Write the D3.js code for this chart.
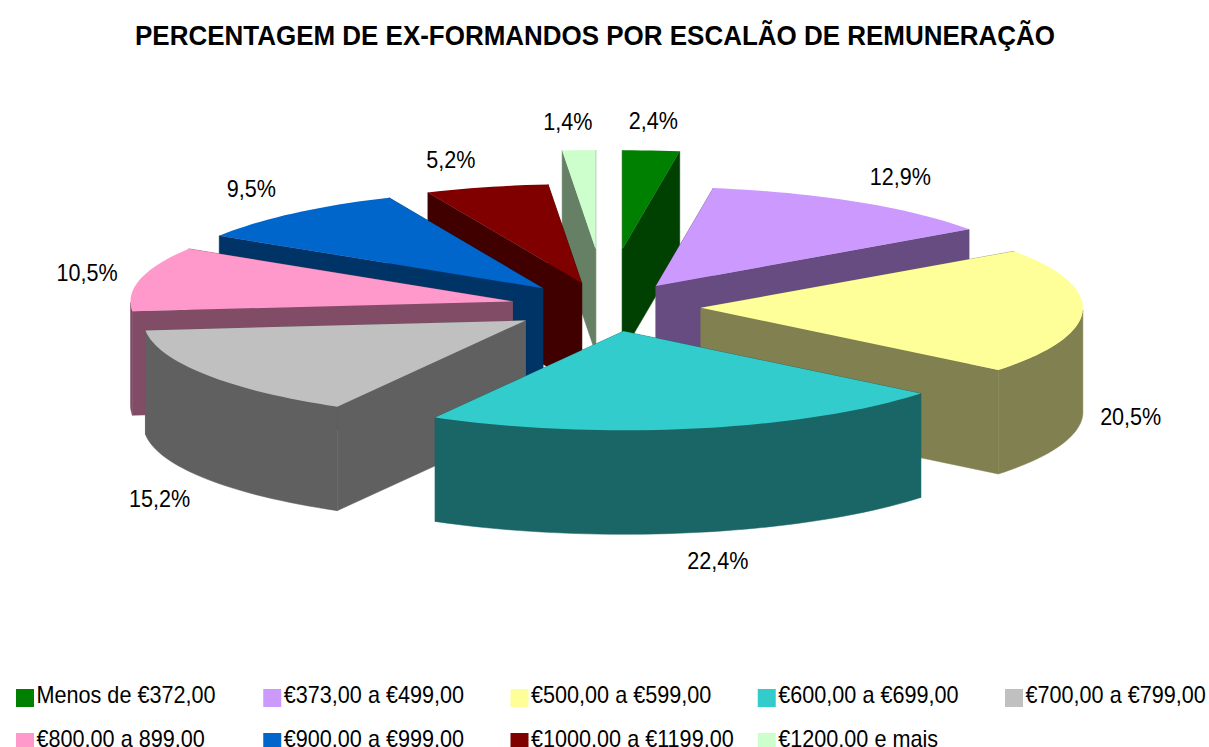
<!DOCTYPE html>
<html><head><meta charset="utf-8">
<style>html,body{margin:0;padding:0;background:#fff;overflow:hidden}svg{display:block}</style>
<script src="https://cdn.jsdelivr.net/npm/d3@7"></script>
</head><body>
<svg id="c" width="1209" height="747"></svg>
<script>
const title = "PERCENTAGEM DE EX-FORMANDOS POR ESCALÃO DE REMUNERAÇÃO";
const categories = ["Menos de €372,00","€373,00 a €499,00","€500,00 a €599,00","€600,00 a €699,00","€700,00 a €799,00","€800,00 a 899,00","€900,00 a €999,00","€1000,00 a €1199,00","€1200,00 e mais"];
const values = [2.4,12.9,20.5,22.4,15.2,10.5,9.5,5.2,1.4];
const explode = [0.585,0.25,0.25,0.25,0.25,0.25,0.25,0.25,0.585];
const colors = ["#008000","#CC99FF","#FFFF99","#33CCCC","#C0C0C0","#FF99CC","#0066CC","#800000","#CCFFCC"];
const wallColors = ["#004000","#664C80","#808050","#1A6666","#606060","#804C66","#003366","#400000","#668066"];
const drawOrder = [8,0,7,1,6,5,2,4,3];
const labelNudge = [[-11,-1],[8,0],[0,1],[2,0],[-2,5],[-6,1],[-3,-2],[-12,1],[-1,1]];

const cx=605.5, cy=307, rx=382, ry=99, depth=104;
const FONT="'Liberation Sans',Arial,sans-serif";
const svg=d3.select("#c");

const pie=d3.pie().sort(null).value(d=>d);
const arcs=pie(values);
const px=(a,r)=>Math.sin(a)*rx*r, py=(a,r)=>-Math.cos(a)*ry*r;
const line=d3.line();

const slices=arcs.map((a,i)=>{
  const mid=(a.startAngle+a.endAngle)/2, ax=cx+px(mid,explode[i]), ay=cy+py(mid,explode[i]);
  const n=Math.max(4,Math.ceil((a.endAngle-a.startAngle)/0.03));
  const ang=d3.scaleLinear().domain([0,n]).range([a.startAngle,a.endAngle]);
  const rim=d3.range(n+1).map(k=>[ax+px(ang(k),1),ay+py(ang(k),1),ang(k)]);
  return {i,mid,ax,ay,rim};
});

const g=svg.append("g");
drawOrder.forEach(i=>{
  const s=slices[i], gs=g.append("g");
  const first=s.rim[0], last=s.rim[s.rim.length-1];
  const wall=(pts)=>gs.append("path").attr("d",line(pts)+"Z").attr("fill",wallColors[i]).attr("stroke",wallColors[i]).attr("stroke-width",0.5);
  [first,last].forEach(p=>wall([[s.ax,s.ay],[p[0],p[1]],[p[0],p[1]+depth],[s.ax,s.ay+depth]]));
  const low=s.rim.filter(p=>p[2]>=Math.PI/2&&p[2]<=3*Math.PI/2);
  if(low.length>1) wall([...low.map(p=>[p[0],p[1]]),...low.slice().reverse().map(p=>[p[0],p[1]+depth])]);
  gs.append("path").attr("d",line([[s.ax,s.ay],...s.rim.map(p=>[p[0],p[1]])])+"Z").attr("fill",colors[i]);
});

// data labels
const fmt=v=>v.toFixed(1).replace(".",",")+"%";
svg.append("g").selectAll("text").data(slices).join("text")
  .attr("transform",s=>{
    const sn=Math.sin(s.mid), c=Math.cos(s.mid);
    const x=s.ax+px(s.mid,1)+Math.sign(sn)*48*Math.sqrt(Math.abs(sn))+labelNudge[s.i][0];
    const y=s.ay+py(s.mid,1)+(c<0?depth:0)-29*c+8+labelNudge[s.i][1];
    return `translate(${x},${y}) scale(0.938,1)`;
  })
  .attr("text-anchor","middle").attr("font-family",FONT).attr("font-size",23).attr("fill","#000")
  .text(s=>fmt(values[s.i]));

svg.append("text").attr("transform","translate(595,45) scale(0.962,1)").attr("text-anchor","middle")
  .attr("font-family",FONT).attr("font-weight","bold").attr("font-size",27).attr("fill","#000").text(title);

// legend
const col=d3.scalePoint().domain(d3.range(5)).range([16,1005]);
const row=d3.scalePoint().domain([0,1]).range([689,733]);
const items=svg.append("g").selectAll("g").data(categories).join("g")
  .attr("transform",(d,i)=>`translate(${col(i%5)},${row(Math.floor(i/5))})`);
items.append("rect").attr("width",18).attr("height",18).attr("fill",(d,i)=>colors[i]);
items.append("text").attr("transform","translate(20.5,14) scale(0.94,1)").attr("font-family",FONT).attr("font-size",23).attr("fill","#000").text(d=>d);
</script>
</body></html>
